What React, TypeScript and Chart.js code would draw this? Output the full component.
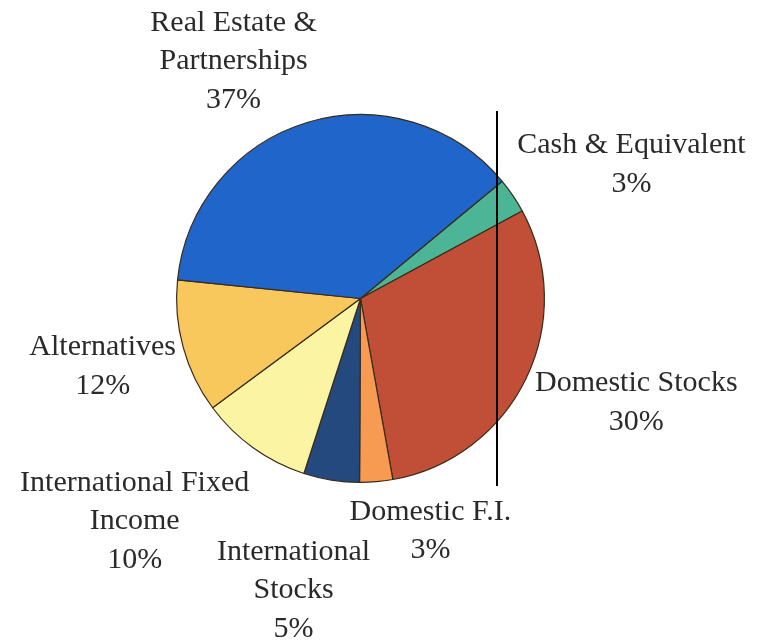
import React, { useEffect, useRef } from "react";
import { Chart, registerables } from "chart.js";

Chart.register(...registerables);

// Data (clockwise, starting at the Cash slice)
const categories: string[][] = [
  ["Cash & Equivalent"],
  ["Domestic Stocks"],
  ["Domestic F.I."],
  ["International", "Stocks"],
  ["International Fixed", "Income"],
  ["Alternatives"],
  ["Real Estate &", "Partnerships"],
];
const allocation: number[] = [3.1, 30.1, 2.9, 4.9, 9.9, 11.75, 37.4];

// Styles / layout (kept apart from the data)
const sliceColors = ["#4bb596", "#c14f38", "#f79a52", "#24497e", "#fbf4a2", "#f8c85c", "#2065c9"];
// label centres relative to pie centre, in units of the radius
const labelPlacement: [number, number][] = [
  [1.473, -0.728],
  [1.5, 0.565],
  [0.38, 1.266],
  [-0.364, 1.587],
  [-1.228, 1.212],
  [-1.402, 0.37],
  [-0.69, -1.29],
];

const labelPlugin = {
  id: "outerLabels",
  afterDraw(chart: any) {
    const meta = chart.getDatasetMeta(0);
    const arc = meta.data[0];
    if (!arc) return;
    const { x: cx, y: cy, outerRadius: r } = arc.getProps(["x", "y", "outerRadius"], true);
    const ctx = chart.ctx;
    const data: number[] = chart.data.datasets[0].data;
    const total = data.reduce((a, b) => a + b, 0);
    ctx.save();
    ctx.font = '30px "Liberation Serif", "Times New Roman", serif';
    ctx.fillStyle = "#2a2a2a";
    ctx.textAlign = "center";
    ctx.textBaseline = "middle";
    const lh = 38.5;
    categories.forEach((lines, i) => {
      const all = [...lines, Math.round((data[i] / total) * 100) + "%"];
      const [px, py] = labelPlacement[i];
      const mx = cx + px * r;
      const my = cy + py * r;
      const y0 = my - ((all.length - 1) * lh) / 2;
      all.forEach((t, k) => ctx.fillText(t, mx, y0 + k * lh));
    });
    // stray vertical rule crossing the pie
    ctx.strokeStyle = "#000";
    ctx.lineWidth = 2;
    ctx.beginPath();
    const lx = Math.round(cx + 0.74 * r);
    ctx.moveTo(lx, cy - 1.02 * r);
    ctx.lineTo(lx, cy + 1.02 * r);
    ctx.stroke();
    ctx.restore();
  },
};

export default function App() {
  const ref = useRef<HTMLCanvasElement | null>(null);
  useEffect(() => {
    if (!ref.current) return;
    const chart = new Chart(ref.current, {
      type: "pie",
      data: {
        labels: categories.map((l) => l.join(" ")),
        datasets: [
          {
            data: allocation,
            backgroundColor: sliceColors,
            borderColor: "#3a2a1a",
            borderWidth: 1.2,
          },
        ],
      },
      options: {
        responsive: false,
        animation: false,
        rotation: 50.4,
        layout: { padding: { left: 176, top: 114, right: 214, bottom: 161 } },
        plugins: {
          legend: { display: false },
          tooltip: { enabled: false },
          title: { display: false },
        },
      },
      plugins: [labelPlugin],
    });
    return () => chart.destroy();
  }, []);
  return (
    <div style={{ position: "absolute", left: 0, top: 0, width: 759, height: 644, background: "#fff" }}>
      <canvas ref={ref} width={759} height={644} style={{ width: 759, height: 644, display: "block" }} />
    </div>
  );
}
